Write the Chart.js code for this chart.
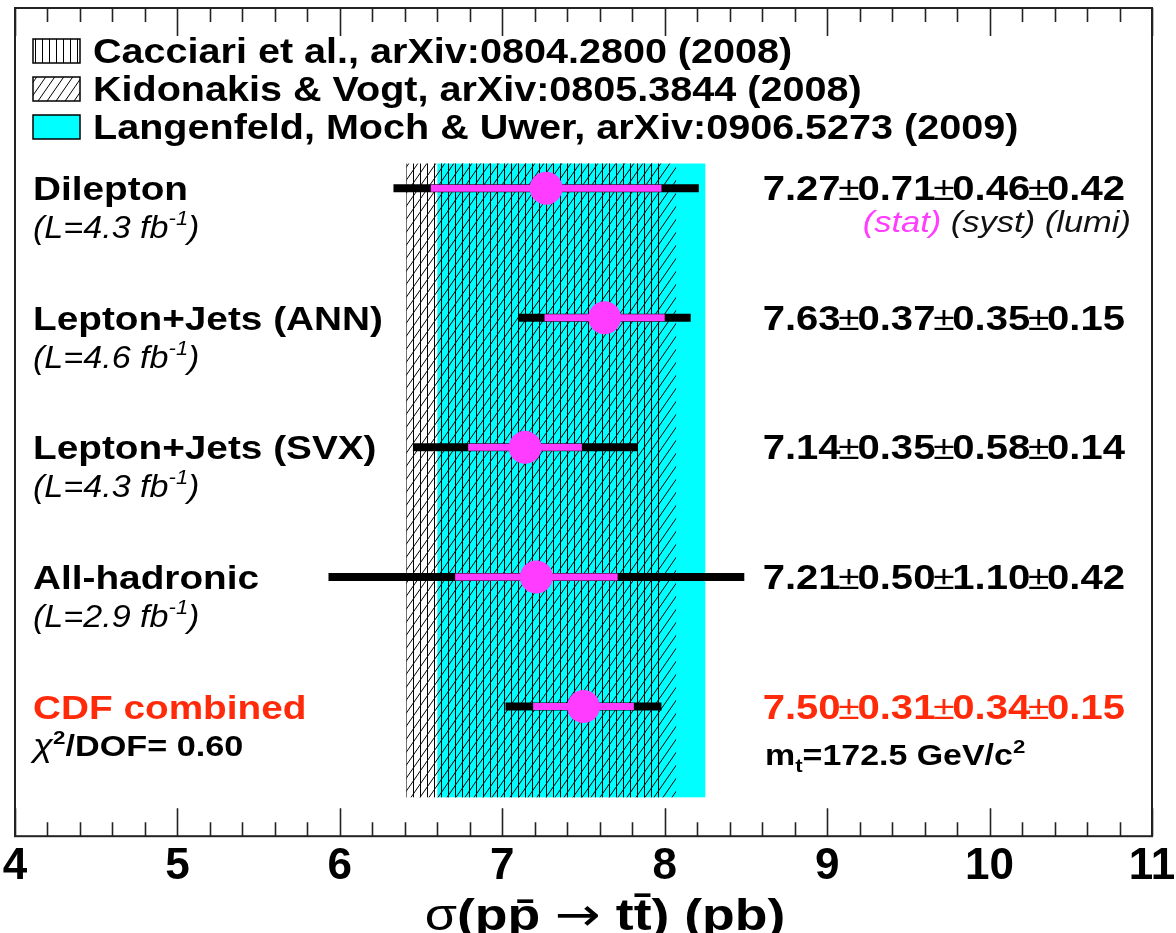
<!DOCTYPE html><html><head><title>CDF top pair cross section</title>
<style>html,body{margin:0;padding:0;background:#fff;overflow:hidden}canvas{display:block}</style>
<script src="https://cdn.jsdelivr.net/npm/chart.js@4"></script>
</head><body><canvas id="c" width="1176" height="933"></canvas>
<script>
// measurements, top row first
const channels = ['Dilepton', 'Lepton+Jets (ANN)', 'Lepton+Jets (SVX)', 'All-hadronic', 'CDF combined'];
const lumis = ['4.3', '4.6', '4.3', '2.9', null];
const rowPos = [5, 4, 3, 2, 1];
const xsec = [7.27, 7.63, 7.14, 7.21, 7.50];
const statErr = [0.71, 0.37, 0.35, 0.50, 0.31];
const systErr = [0.46, 0.35, 0.58, 1.10, 0.34];
const lumiErr = [0.42, 0.15, 0.14, 0.42, 0.15];
const totalErr = [0.94, 0.53, 0.69, 1.28, 0.48];
// theory predictions
const theoryNames = ['Cacciari et al., arXiv:0804.2800 (2008)', 'Kidonakis & Vogt, arXiv:0805.3844 (2008)', 'Langenfeld, Moch & Uwer, arXiv:0906.5273 (2009)'];
const theoryLow = [6.41, 6.41, 6.60];
const theoryHigh = [8.00, 8.07, 8.25];
const bandSpan = [0.30, 5.19];

const F = '"Liberation Sans", Arial, Helvetica, sans-serif';
const MAG = '#ff3cff', RED = '#ff2a0a';

function makePattern(kind) {
  const c = document.createElement('canvas');
  const w = kind === 'vert' ? 7 : 9, h = kind === 'vert' ? 7 : 13;
  c.width = w; c.height = h;
  const g = c.getContext('2d');
  g.strokeStyle = '#000'; g.lineWidth = 1;
  g.beginPath();
  if (kind === 'vert') { g.moveTo(0.5, 0); g.lineTo(0.5, h); }
  else { for (let k = -1; k <= 1; k++) { g.moveTo(k * w, h); g.lineTo(k * w + w, 0); } }
  g.stroke();
  return g.createPattern(c, 'repeat');
}
const ctx0 = document.getElementById('c').getContext('2d');
const bandFills = [makePattern('vert'), makePattern('diag'), '#00ffff'];
const drawOrder = [2, 0, 1];

// draw a row of text pieces: [text, font, colour, dy, dx]
function runs(ctx, parts, x, y, align, sx) {
  let w = 0;
  parts.forEach(p => { ctx.font = p[1]; w += ctx.measureText(p[0]).width + 2 * (p[4] || 0); });
  ctx.save(); ctx.translate(x, y); ctx.scale(sx, 1);
  ctx.textBaseline = 'alphabetic'; ctx.textAlign = 'left';
  let cx = align === 'right' ? -w : align === 'center' ? -w / 2 : 0;
  parts.forEach(p => {
    ctx.font = p[1]; ctx.fillStyle = p[2] || '#000';
    cx += p[4] || 0;
    ctx.fillText(p[0], cx, p[3] || 0);
    cx += ctx.measureText(p[0]).width + (p[4] || 0);
  });
  ctx.restore();
}

const bands = {
  id: 'bands',
  beforeDatasetsDraw(chart) {
    const { ctx, scales: { x, y } } = chart;
    const y0 = y.getPixelForValue(bandSpan[1]), y1 = y.getPixelForValue(bandSpan[0]);
    ctx.save();
    drawOrder.forEach(i => {
      const x0 = x.getPixelForValue(theoryLow[i]), x1 = x.getPixelForValue(theoryHigh[i]);
      ctx.fillStyle = bandFills[i];
      ctx.fillRect(x0, y0, x1 - x0, y1 - y0);
    });
    ctx.restore();
  }
};

const decor = {
  id: 'decor',
  afterDraw(chart) {
    const { ctx, chartArea: a, scales: { x, y } } = chart;
    ctx.save();
    // frame + ticks
    ctx.strokeStyle = '#222'; ctx.lineWidth = 2;
    ctx.strokeRect(a.left, a.top, a.right - a.left, a.bottom - a.top);
    ctx.lineWidth = 1.6; ctx.beginPath();
    for (let k = 0; k <= 35; k++) {
      const px = Math.round(x.getPixelForValue(4 + k * 0.2)) + 0.5;
      const len = k % 5 === 0 ? 28 : 14;
      ctx.moveTo(px, a.bottom); ctx.lineTo(px, a.bottom - len);
      ctx.moveTo(px, a.top); ctx.lineTo(px, a.top + len);
    }
    ctx.stroke();

    // legend
    theoryNames.forEach((name, i) => {
      const base = 63 + i * 38;
      ctx.fillStyle = '#fff'; ctx.fillRect(33, base - 24, 47, 24);
      ctx.fillStyle = bandFills[i]; ctx.fillRect(33, base - 24, 47, 24);
      ctx.strokeStyle = '#000'; ctx.lineWidth = 1.5; ctx.strokeRect(33, base - 24, 47, 24);
      runs(ctx, [[name, `bold 35px ${F}`]], 93, base, 'left', 1.13);
    });

    // row texts
    channels.forEach((ch, i) => {
      const ry = y.getPixelForValue(rowPos[i]);
      const col = lumis[i] ? '#000' : RED;
      runs(ctx, [[ch, `bold 34px ${F}`, col]], 33, ry + 12, 'left', 1.14);
      if (lumis[i]) {
        runs(ctx, [['(L=' + lumis[i] + ' fb', `italic 31px ${F}`], ['-1', `italic 20px ${F}`, '#000', -13], [')', `italic 31px ${F}`]], 33, ry + 50, 'left', 1.1);
      }
      const b = `bold 35px ${F}`, pm = `34px ${F}`;
      runs(ctx, [[xsec[i].toFixed(2), b, col], ['\u00b1', pm, col, 0, -2], [statErr[i].toFixed(2), b, col], ['\u00b1', pm, col, 0, -2],
        [systErr[i].toFixed(2), b, col], ['\u00b1', pm, col, 0, -2], [lumiErr[i].toFixed(2), b, col]], 1125, ry + 12, 'right', 1.145);
    });
    const r0 = y.getPixelForValue(rowPos[0]);
    runs(ctx, [['(stat)', `italic 30px ${F}`, MAG], [' (syst) (lumi)', `italic 30px ${F}`, '#111']], 1131, r0 + 44, 'right', 1.15);
    const rc = y.getPixelForValue(rowPos[4]);
    runs(ctx, [['\u03c7', `italic 31px ${F}`], ['2', `bold 19px ${F}`, '#000', -12], ['/DOF= 0.60', `bold 29px ${F}`]], 33, rc + 49, 'left', 1.18);
    runs(ctx, [['m', `bold 29px ${F}`], ['t', `bold 19px ${F}`, '#000', 7], ['=172.5 GeV/c', `bold 29px ${F}`], ['2', `bold 19px ${F}`, '#000', -12]], 765, rc + 58, 'left', 1.17);

    // axis title
    runs(ctx, [['\u03c3', `44px ${F}`], ['(pp\u0304 ', `bold 45px ${F}`], ['\u2192', `46px "DejaVu Sans"`], [' tt\u0304) (pb)', `bold 45px ${F}`]], 605, 930, 'center', 1.19);
    ctx.restore();
  }
};

// order: lower value is drawn on top
const datasets = [];
datasets.push({ data: xsec.map((v, i) => ({ x: v, y: rowPos[i] })), order: 0,
  pointRadius: 16.5, pointBackgroundColor: MAG, pointBorderWidth: 0, showLine: false });
channels.forEach((ch, i) => {
  datasets.push({ data: [{ x: xsec[i] - statErr[i], y: rowPos[i] }, { x: xsec[i] + statErr[i], y: rowPos[i] }], order: 1,
    showLine: true, borderColor: MAG, borderWidth: 7, pointRadius: 0, borderCapStyle: 'butt' });
});
channels.forEach((ch, i) => {
  datasets.push({ data: [{ x: xsec[i] - totalErr[i], y: rowPos[i] }, { x: xsec[i] + totalErr[i], y: rowPos[i] }], order: 2,
    showLine: true, borderColor: '#000', borderWidth: 8, pointRadius: 0, borderCapStyle: 'butt' });
});

new Chart(ctx0, {
  type: 'scatter',
  data: { datasets },
  options: {
    responsive: false, animation: false, events: [],
    layout: { autoPadding: false, padding: { left: 15, right: 24, top: 8, bottom: 36 } },
    plugins: { legend: { display: false }, tooltip: { enabled: false } },
    scales: {
      x: { type: 'linear', min: 4, max: 11,
        ticks: { stepSize: 1, padding: 4, color: '#000', font: { family: F, size: 44, weight: 'bold' } },
        grid: { display: false, drawTicks: false }, border: { display: false },
        afterFit(s) { s.paddingLeft = 0; s.paddingRight = 0; } },
      y: { type: 'linear', min: 0, max: 6.39, display: false }
    }
  },
  plugins: [bands, decor]
});
</script>
</body>
</html>
